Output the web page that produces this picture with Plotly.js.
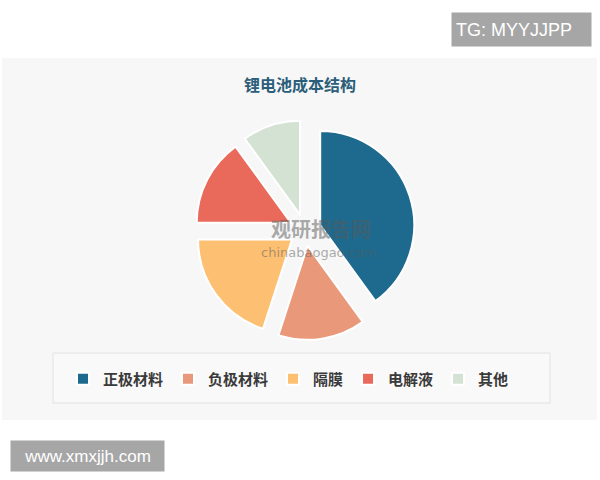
<!DOCTYPE html>
<html>
<head>
<meta charset="utf-8">
<script src="https://cdn.plot.ly/plotly-3.0.1.min.js"></script>
<style>html,body{margin:0;padding:0;background:#fff;}#chart{width:600px;height:480px;}</style>
</head>
<body>
<div id="chart"></div>
<script>
// Data
const categories = ['正极材料', '负极材料', '隔膜', '电解液', '其他'];
const shares = [40, 15, 20, 15, 10];
const sliceColors = ['#1d6a8e', '#e9997a', '#fdc072', '#e9695b', '#d4e2d4'];
const chartTitle = '锂电池成本结构';

const W = 600, H = 480;
const px = x => x / W;
const py = y => 1 - y / H;

const pie = {
  type: 'pie',
  labels: categories,
  values: shares,
  sort: false,
  direction: 'clockwise',
  rotation: 0,
  pull: shares.map(() => 0.17),
  textinfo: 'none',
  hoverinfo: 'label+percent',
  marker: { colors: sliceColors, line: { color: '#ffffff', width: 2 } },
  domain: { x: [px(195), px(415)], y: [py(340), py(120)] }
};

const layout = {
  width: W, height: H,
  margin: { l: 0, r: 0, t: 0, b: 0 },
  paper_bgcolor: '#ffffff',
  plot_bgcolor: '#ffffff',
  font: { family: '"Noto Sans CJK SC", "Noto Sans", sans-serif', color: '#333' },
  title: {
    text: '<b>' + chartTitle + '</b>',
    x: 0.5, xanchor: 'center',
    y: py(85), yanchor: 'middle',
    font: { size: 16, color: '#2b5e7a', family: '"Noto Sans CJK SC", sans-serif' }
  },
  showlegend: true,
  legend: {
    orientation: 'h',
    x: px(63), xanchor: 'left',
    y: py(379), yanchor: 'middle',
    bgcolor: 'rgba(0,0,0,0)',
    itemwidth: 30,
    font: { size: 15, color: '#3a3a3a', weight: 'bold', family: '"Noto Sans CJK SC", sans-serif' }
  },
  shapes: [
    { type: 'rect', xref: 'paper', yref: 'paper', layer: 'below',
      x0: px(2), x1: px(597), y0: py(420), y1: py(58),
      fillcolor: '#f7f7f7', line: { width: 0 } },
    { type: 'rect', xref: 'paper', yref: 'paper', layer: 'below',
      x0: px(53), x1: px(550), y0: py(403), y1: py(353),
      fillcolor: '#f9f9f9', line: { color: '#e2e2e2', width: 1 } }
  ],
  annotations: [
    { xref: 'paper', yref: 'paper', x: px(451), y: py(12), xanchor: 'left', yanchor: 'top',
      text: 'TG: MYYJJPP', showarrow: false, bgcolor: '#a6a6a6',
      width: 131, height: 25, align: 'left', borderpad: 4,
      font: { size: 18, color: '#ffffff', family: '"Liberation Sans", Arial, sans-serif' } },
    { xref: 'paper', yref: 'paper', x: px(10), y: py(440), xanchor: 'left', yanchor: 'top',
      text: 'www.xmxjjh.com', showarrow: false, bgcolor: '#a6a6a6',
      width: 145, height: 22, align: 'center', borderpad: 4,
      font: { size: 17, color: '#ffffff', family: '"Liberation Sans", Arial, sans-serif' } },
    { xref: 'paper', yref: 'paper', x: px(321), y: py(228), xanchor: 'center', yanchor: 'middle',
      text: '<b>观研报告网</b>', showarrow: false,
      font: { size: 20, color: 'rgba(90,90,90,0.5)', family: '"Noto Sans CJK SC", sans-serif' } },
    { xref: 'paper', yref: 'paper', x: px(318), y: py(252), xanchor: 'center', yanchor: 'middle',
      text: 'chinabaogao.com', showarrow: false,
      font: { size: 13, color: 'rgba(90,90,90,0.5)', family: '"DejaVu Sans", sans-serif' } }
  ]
};

Plotly.newPlot('chart', [pie], layout, { displayModeBar: false, staticPlot: true });
</script>
</body>
</html>
